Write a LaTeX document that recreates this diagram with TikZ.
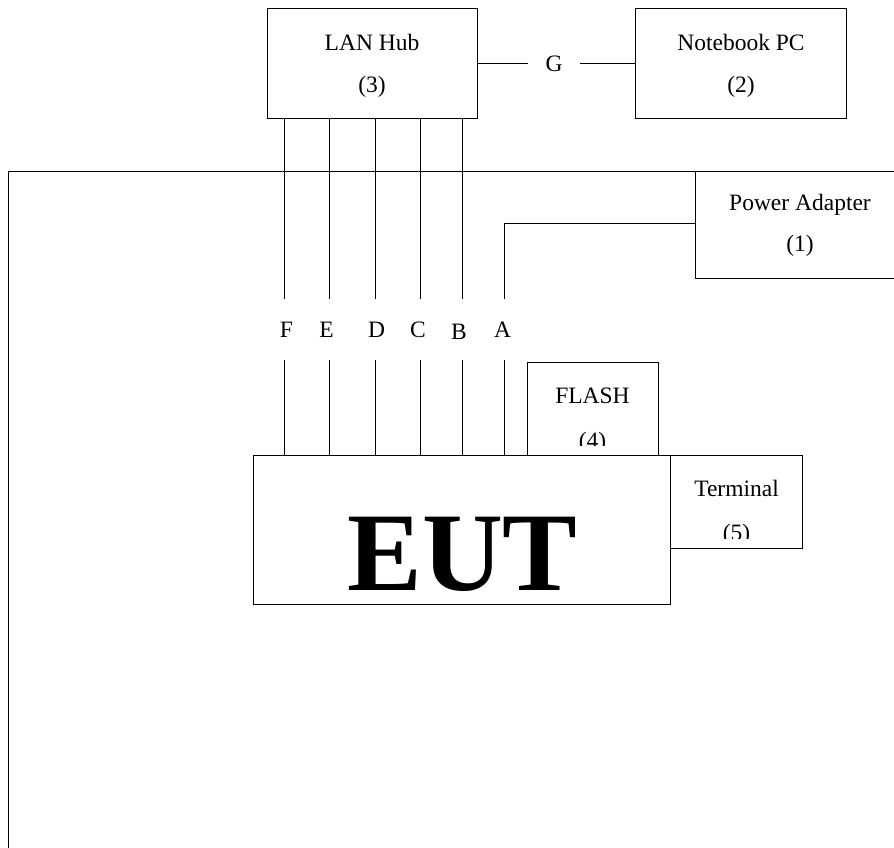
\documentclass[tikz,border=0pt]{standalone}
\usepackage{fontspec}
\setmainfont{Liberation Serif}
\begin{document}
\begin{tikzpicture}[x=1pt,y=-1pt,
  box/.style={draw, line width=1pt, rectangle, inner sep=0pt, fill=white},
  txt/.style={anchor=base, inner sep=0pt, font=\fontsize{23.5}{28}\selectfont},
  wire/.style={line width=1pt}]
\useasboundingbox (0,0) rectangle (894,848);
\clip (0,0) rectangle (894,848);
% outer frame
\coordinate (f1) at (8,870);
\coordinate (f2) at (8,171);
\coordinate (f3) at (910,171);
\draw[wire] (f1) -- (f2) -- (f3);
% boxes
\node[box, minimum width=210pt, minimum height=110pt] (hub) at (372,64) {};
\node[txt] (hubt1) at (372,51) {LAN Hub};
\node[txt] (hubt2) at (372,93) {(3)};
\node[box, minimum width=211pt, minimum height=110pt] (nb) at (740.5,64) {};
\node[txt] (nbt1) at (741,51) {Notebook PC};
\node[txt] (nbt2) at (741,93) {(2)};
\node[inner xsep=17.5pt, inner ysep=0pt, font=\fontsize{23.5}{28}\selectfont] (g) at (554,64) {G};
\draw[wire] (hub.east) -- (g);
\draw[wire] (g) -- (nb.west);
\node[box, minimum width=210pt, minimum height=107pt] (pa) at (800,224.5) {};
\node[txt] (pat1) at (800,210.7) {Power Adapter};
\node[txt] (pat2) at (800,251) {(1)};
% FLASH box (under EUT)
\node[box, minimum width=131pt, minimum height=93pt] (fl) at (592.5,408.5) {};
\node[txt] (flt1) at (592.5,403) {FLASH};
\begin{scope}
  \clip (527,362) rectangle (658,445);
  \node[txt] (flt2) at (592.5,448) {(4)};
\end{scope}
% Terminal box
\node[box, minimum width=132pt, minimum height=93pt] (tm) at (736,501.5) {};
\node[txt] (tmt1) at (736.5,496.7) {Terminal};
\begin{scope}
  \clip (670,455) rectangle (802,538);
  \node[txt] (tmt2) at (736.5,540) {(5)};
\end{scope}
% EUT
\node[box, minimum width=417pt, minimum height=149pt] (eut) at (461.5,529.5) {};
\node[anchor=base, inner sep=0pt, font=\fontsize{112}{120}\selectfont\bfseries] (eutt) at (462.5,590) {EUT};
% wire end points
\coordinate (Fup) at (284,299); \coordinate (Fdn) at (284,360);
\coordinate (Eup) at (329,299); \coordinate (Edn) at (329,360);
\coordinate (Dup) at (375,299); \coordinate (Ddn) at (375,360);
\coordinate (Cup) at (420,299); \coordinate (Cdn) at (420,360);
\coordinate (Bup) at (462,299); \coordinate (Bdn) at (462,360);
\coordinate (Aup) at (504,299); \coordinate (Adn) at (504,360);
\coordinate (pain) at (695,223);
% labels
\node[txt] (labF) at (286.5,337) {F};
\node[txt] (labE) at (326.5,337) {E};
\node[txt] (labD) at (376.5,337) {D};
\node[txt] (labC) at (418,337) {C};
\node[txt] (labB) at (459,339.5) {B};
\node[txt] (labA) at (502.5,337) {A};
% wires
\foreach \n in {F,E,D,C,B}{
  \draw[wire] (hub.south -| \n up) -- (\n up);
}
\foreach \n in {F,E,D,C,B,A}{
  \draw[wire] (\n dn) -- (\n dn |- eut.north);
}
\draw[wire] (pain) -| (Aup);
\end{tikzpicture}
\end{document}
